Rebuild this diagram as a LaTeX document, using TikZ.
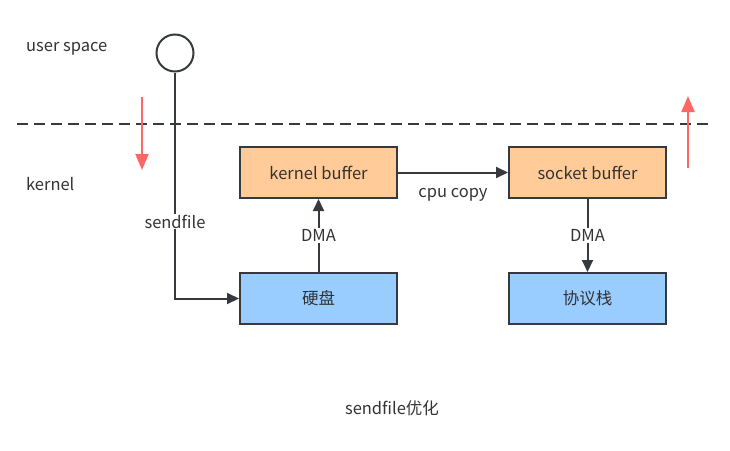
\documentclass[tikz,border=0pt]{standalone}
\usepackage{fontspec}
\setmainfont{Noto Sans CJK SC}
\usetikzlibrary{arrows.meta,positioning}
\definecolor{lineGray}{HTML}{36393D}
\definecolor{txtGray}{HTML}{333333}
\definecolor{bufFill}{HTML}{FFCC99}
\definecolor{devFill}{HTML}{99CCFF}
\definecolor{dirRed}{HTML}{FF6666}

\begin{document}
\begin{tikzpicture}[x=1pt, y=-1pt, font=\fontsize{16.5}{18}\selectfont, text=txtGray]
			\tikzstyle{Box}		= [rectangle, draw=lineGray, line width=2pt, minimum width=157pt, minimum height=51pt, inner sep=0pt]
			\tikzstyle{Buf}		= [fill=bufFill]
			\tikzstyle{Dev}		= [fill=devFill]
			\tikzstyle{Flow}	= [draw=lineGray, line width=2pt, -{Triangle[length=12pt,width=11pt]}]
			\tikzstyle{Dir}		= [draw=dirRed, line width=2pt, -{Triangle[length=16pt,width=13pt]}]
			\tikzstyle{Lbl}		= [fill=white, inner sep=1pt]

			\useasboundingbox (0,0) rectangle (730,450);

			\node (user) at (26, 49) [anchor=west, inner sep=0pt] {user space};
			\node (kern) at (26, 184) [anchor=west, inner sep=0pt] {kernel};

			\coordinate (dl) at (17, 124);
			\coordinate (dr) at (712, 124);
			\draw [lineGray, line width=2pt, dash pattern=on 11pt off 6pt] (dl) -- (dr);

			\coordinate (d1) at (142, 97);
			\coordinate (d2) at (142, 170);
			\coordinate (u1) at (688, 168);
			\coordinate (u2) at (688, 96);
			\draw [Dir] (d1) to (d2);
			\draw [Dir] (u1) to (u2);

			\node (app) at (175, 53) [circle, draw=lineGray, line width=2pt, minimum size=37pt, inner sep=0pt] {};

			\node (kbuf) at (318.5, 172.5) [Box][Buf] {kernel buffer};
			\node (sbuf) at (587.5, 172.5) [Box][Buf] {socket buffer};
			\node (disk) at (318.5, 298.5) [Box][Dev] {硬盘};
			\node (stack) at (587.5, 298.5) [Box][Dev] {协议栈};

			\draw [Flow] (app) |- (disk) node [Lbl, pos=0.33] {sendfile};
			\draw [Flow] (disk) to node [Lbl] {DMA} (kbuf);
			\draw [Flow] (kbuf) to node [below=11pt] {cpu copy} (sbuf);
			\draw [Flow] (sbuf) to node [Lbl] {DMA} (stack);

			\node (cap) at (392, 408) {sendfile优化};
		\end{tikzpicture}
\end{document}
